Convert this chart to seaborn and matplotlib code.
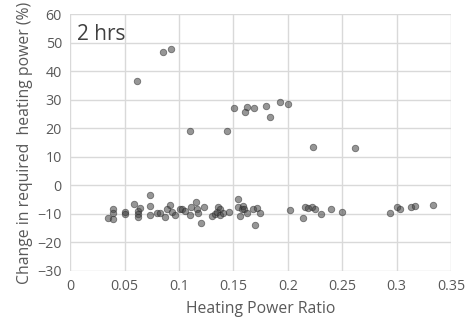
import matplotlib
matplotlib.use("Agg")
import matplotlib.pyplot as plt
import seaborn as sns
import pandas as pd

# upper group
x_high = [0.085, 0.0927, 0.061, 0.110, 0.1437, 0.1508, 0.162, 0.161, 0.169, 0.1795,
          0.184, 0.1927, 0.1997, 0.223, 0.262]
y_high = [46.7, 47.8, 36.5, 19.1, 19.1, 27.2, 27.6, 25.6, 27.2, 27.8,
          24.1, 29.3, 28.4, 13.6, 13.3]

# lower cluster
x_low = [0.0351, 0.039, 0.039, 0.039, 0.0505, 0.0505, 0.0587, 0.0627, 0.0627, 0.0627,
         0.064, 0.0734, 0.0734, 0.0734, 0.0795, 0.0826, 0.087, 0.0887, 0.0917, 0.0933,
         0.0963, 0.1009, 0.103, 0.1055, 0.110, 0.1107, 0.1156, 0.1162, 0.1177, 0.120,
         0.123, 0.130, 0.133, 0.1346, 0.136, 0.1376, 0.138, 0.1407, 0.1459, 0.1544,
         0.1544, 0.156, 0.1575, 0.159, 0.160, 0.162, 0.168, 0.172, 0.170, 0.174,
         0.202, 0.2135, 0.2156, 0.2186, 0.2217, 0.2248, 0.230, 0.240, 0.250, 0.294,
         0.300, 0.303, 0.3135, 0.3165, 0.333]
y_low = [-11.6, -11.8, -8.4, -9.6, -9.3, -10.2, -6.6, -8.9, -10.1, -11.0,
         -7.9, -3.2, -7.3, -10.4, -9.5, -9.5, -11.0, -8.4, -6.9, -9.3,
         -10.4, -8.4, -8.4, -8.9, -10.4, -7.7, -5.7, -8.1, -9.5, -13.1,
         -7.7, -10.8, -10.1, -9.3, -7.5, -8.4, -10.4, -9.8, -9.3, -4.6,
         -7.5, -10.8, -8.1, -7.3, -8.4, -9.8, -8.1, -7.9, -13.9, -9.8,
         -8.7, -11.6, -7.5, -7.9, -7.5, -8.4, -10.1, -8.4, -9.3, -9.5,
         -7.5, -8.1, -7.7, -7.3, -6.9]

x_ticks = [0, 0.05, 0.1, 0.15, 0.2, 0.25, 0.3, 0.35]
x_tick_labels = ["0", "0.05", "0.1", "0.15", "0.2", "0.25", "0.3", "0.35"]
y_ticks = [-30, -20, -10, 0, 10, 20, 30, 40, 50, 60]

df = pd.DataFrame({"ratio": x_high + x_low, "change": y_high + y_low})

sns.set_theme(style="white")
plt.rcParams["font.family"] = ["Open Sans", "DejaVu Sans"]

fig = plt.figure(figsize=(4.68, 3.28), dpi=100)
ax = fig.add_axes([0.150, 0.174, 0.814, 0.782])

sns.scatterplot(data=df, x="ratio", y="change", ax=ax, s=22,
                color="#404040", alpha=0.55, edgecolor="#2a2a2a", linewidth=0.6,
                zorder=3)

ax.set_xlim(0, 0.35)
ax.set_ylim(-30, 60)
ax.set_xticks(x_ticks)
ax.set_xticklabels(x_tick_labels)
ax.set_yticks(y_ticks)
ax.grid(True, color="#d9d9d9", linewidth=1.0, zorder=0)
ax.set_axisbelow(True)
for s in ax.spines.values():
    s.set_visible(False)
ax.tick_params(axis="both", length=0, labelsize=10.3, colors="#595959", pad=6)
ax.set_xlabel("Heating Power Ratio", fontsize=11.3, color="#595959", labelpad=5)
ax.set_ylabel("Change in required  heating power (%)", fontsize=11.3, color="#595959", labelpad=3)
ax.text(0.006, 56.8, "2 hrs", fontsize=15, color="#404040", va="top", ha="left")

fig.savefig("out.png", dpi=100)
